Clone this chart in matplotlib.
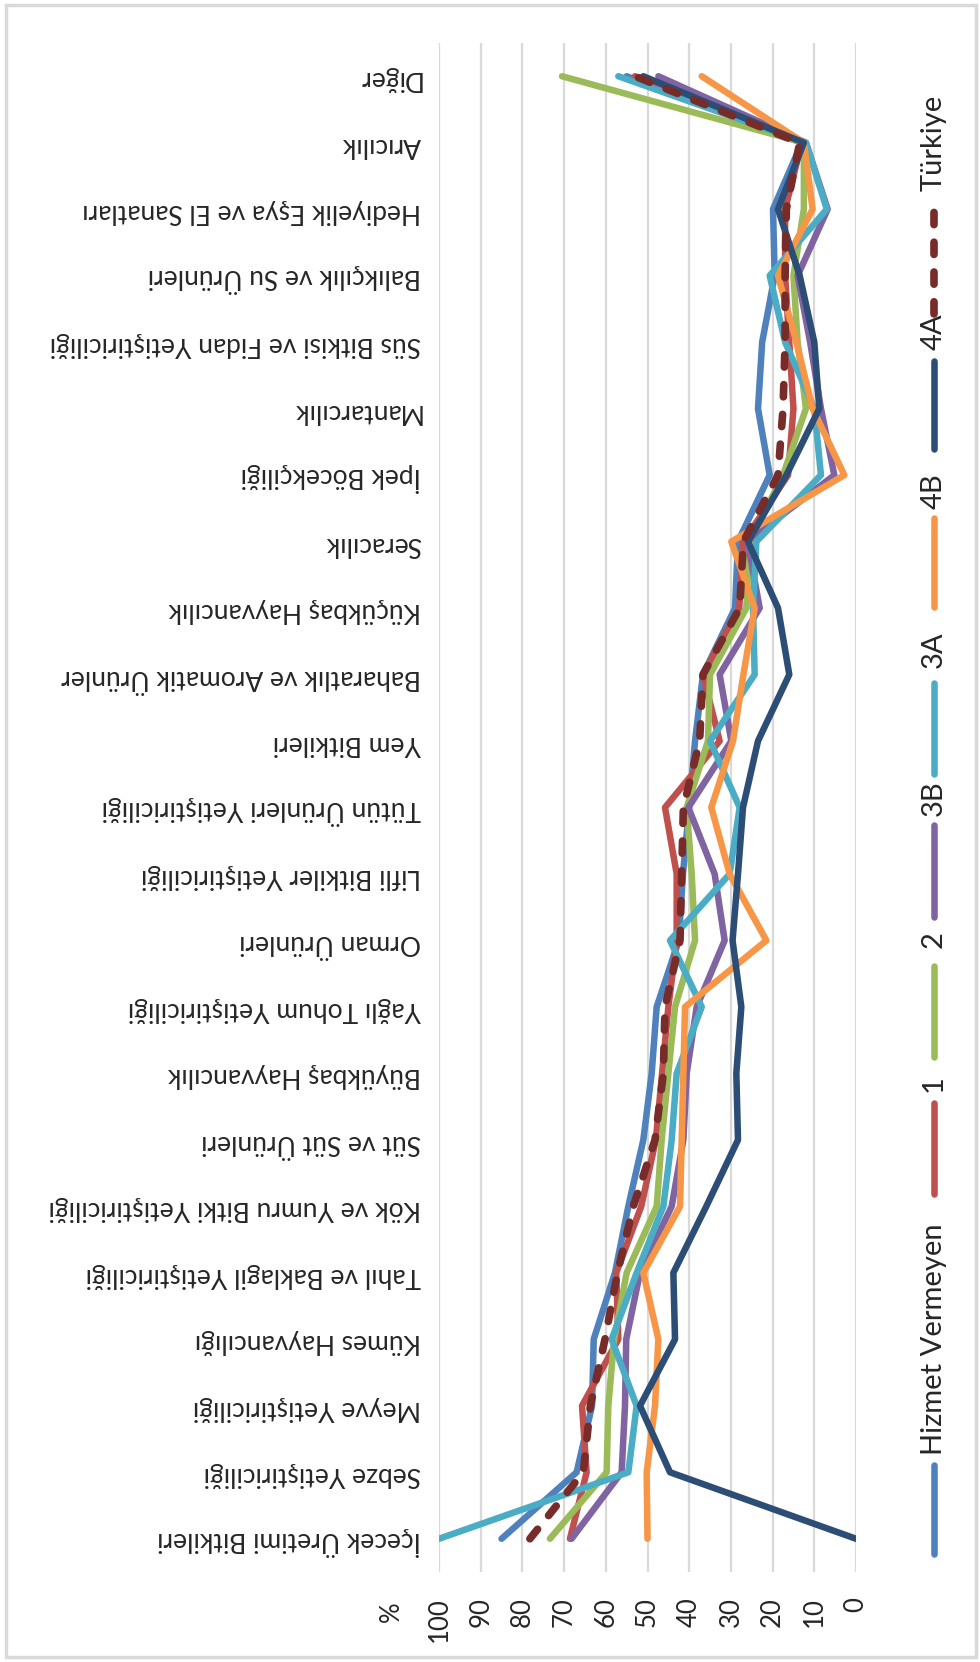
import matplotlib
matplotlib.use("Agg")
import matplotlib.pyplot as plt
from matplotlib.lines import Line2D
from matplotlib.patches import Rectangle

plt.rcParams['font.family'] = ['Lato', 'DejaVu Sans']

# ---------------- data (index 0 = bottom row of the picture) ----------------
categories = [
    "İçecek Üretimi Bitkileri", "Sebze Yetiştiriciliği", "Meyve Yetiştiriciliği",
    "Kümes Hayvancılığı", "Tahıl ve Baklagil Yetiştiriciliği",
    "Kök ve Yumru Bitki Yetiştiriciliği", "Süt ve Süt Ürünleri",
    "Büyükbaş Hayvancılık", "Yağlı Tohum Yetiştiriciliği", "Orman Ürünleri",
    "Lifli Bitkiler Yetiştiriciliği", "Tütün Ürünleri Yetiştiriciliği",
    "Yem Bitkileri", "Baharatlık ve Aromatik Ürünler", "Küçükbaş Hayvancılık",
    "Seracılık", "İpek Böcekçiliği", "Mantarcılık",
    "Süs Bitkisi ve Fidan Yetiştiriciliği", "Balıkçılık ve Su Ürünleri",
    "Hediyelik Eşya ve El Sanatları", "Arıcılık", "Diğer",
]

hizmet_vermeyen = [85, 67, 63.3, 62.9, 57.8, 54.6, 51, 49, 47.8, 42.5, 41.5, 40,
                   38.6, 36.7, 29, 28.3, 20.7, 23.5, 22.5, 19.5, 19.9, 13, 55]
bolge_1 = [68.6, 64.6, 65.7, 57, 57.5, 51.5, 48, 46.5, 45, 43, 43, 45.8,
           32.7, 36.7, 28, 27, 16.3, 15, 16, 17, 17, 13, 53]
bolge_2 = [73.4, 59.8, 59.4, 58, 55, 47.8, 46.6, 45, 43.4, 38.6, 39.4, 40.6,
           35.5, 35, 26.3, 25.5, 17.5, 12, 14, 15, 12.5, 12.5, 70.5]
bolge_3b = [68.2, 56.2, 55.4, 55.1, 51.8, 44.2, 41.4, 40.6, 38.2, 31.5, 33.9, 40.2,
            29.9, 32.7, 23.1, 26, 5.2, 8.4, 11, 14, 6.8, 12, 47.4]
bolge_3a = [100, 54.6, 52.6, 58.6, 52.6, 46.2, 44.2, 43, 37, 44.6, 30.3, 27.9,
            35, 24.3, 24.7, 23.9, 8.4, 10, 17, 20.7, 7, 12, 57]
bolge_4b = [50, 50.2, 48.2, 47.4, 51, 42.2, 41.8, 41.4, 41, 21.5, 30.3, 34.7,
            29.5, 27, 24.3, 29.9, 2.8, 10.4, 14.3, 18.7, 10.4, 12.5, 37]
bolge_4a = [0, 44.6, 51.8, 43.4, 43.8, 35.9, 28.3, 28.7, 27.5, 29.6, 28.3, 27.1,
            23.5, 16, 18.7, 25.9, 16.7, 8.8, 10, 13.5, 18.7, 12.5, 51]
turkiye = [78.2, 65.4, 63.7, 60.2, 57.2, 53.4, 48.2, 46.2, 45.8, 42.2, 41.8, 41.4,
           37.5, 36.7, 27.9, 27, 18.7, 17.5, 17, 17, 16.7, 13.5, 53]

series_names = ["Hizmet Vermeyen", "1", "2", "3B", "3A", "4B", "4A", "Türkiye"]
series_values = [hizmet_vermeyen, bolge_1, bolge_2, bolge_3b, bolge_3a,
                 bolge_4b, bolge_4a, turkiye]
series_colors = ["#4F81BD", "#C0504D", "#9BBB59", "#8064A2", "#4BACC6",
                 "#F79646", "#2C4D75", "#772C2A"]
value_ticks = list(range(0, 101, 10))

# ---------------- layout ----------------
W, H = 980, 1662
fig = plt.figure(figsize=(W / 100, H / 100), dpi=100)


def fx(px):
    return px / W


def fy(py):
    return 1 - py / H


LW = 4.7
LW_T = 5.5
DASH = (0, (1.6, 2.3))

ax = fig.add_axes([fx(439), fy(1572), fx(856) - fx(439), fy(43) - fy(1572)])
ypos = list(range(len(categories)))

for name, vals, col in zip(series_names, series_values, series_colors):
    if name == "Türkiye":
        ax.plot(vals, ypos, color=col, lw=LW_T, linestyle=DASH,
                dash_capstyle='round', dash_joinstyle='round', zorder=5)
    else:
        ax.plot(vals, ypos, color=col, lw=LW, solid_capstyle='round',
                solid_joinstyle='round', zorder=4)

ax.set_xlim(100, 0)
ax.set_ylim(-0.5, len(categories) - 0.5)
ax.set_xticks(value_ticks)
ax.set_xticklabels([str(v) for v in value_ticks], rotation=90, fontsize=18.5,
                   color='#262626')
ax.tick_params(axis='x', length=0, pad=18)
ax.set_yticks(ypos)
ax.set_yticklabels(categories, rotation=180, fontsize=19, color='#262626')
ax.tick_params(axis='y', length=0, pad=13)
ax.grid(axis='x', color='#D9D9D9', linewidth=1.6)
ax.grid(axis='y', visible=False)
ax.set_axisbelow(True)
for s in ax.spines.values():
    s.set_visible(False)

fig.text(fx(391), fy(1612), "%", rotation=90, ha='center', va='center',
         fontsize=18.5, color='#262626')

# ---------------- legend (vertical, reading bottom to top) ----------------
leg_x = 934
leg_items = [  # (line bottom, line top, text bottom) in pixels
    (1557, 1462, 1455),
    (1197, 1100, 1092),
    (1060, 963, 948),
    (920, 822, 816),
    (777, 680, 668),
    (610, 515, 509),
    (452, 358, 350),
    (318, 200, 191),
]
for (yb, yt, tb), name, col in zip(leg_items, series_names, series_colors):
    if name == "Türkiye":
        ln = Line2D([fx(leg_x), fx(leg_x)], [fy(yb - 4), fy(yt + 4)],
                    transform=fig.transFigure, color=col, lw=LW_T,
                    linestyle=DASH, dash_capstyle='round')
    else:
        ln = Line2D([fx(leg_x), fx(leg_x)], [fy(yb - 3), fy(yt + 3)],
                    transform=fig.transFigure, color=col, lw=LW,
                    solid_capstyle='round')
    fig.add_artist(ln)
    fig.text(fx(leg_x), fy(tb), name, rotation=90, ha='center', va='bottom',
             fontsize=21, color='#262626')

fig.add_artist(Rectangle((fx(6), fy(1657)), fx(976) - fx(6), fy(5) - fy(1657),
                         transform=fig.transFigure, fill=False,
                         edgecolor='#D9D9D9', linewidth=2.5))

fig.savefig("out.png", dpi=100, facecolor='white')
